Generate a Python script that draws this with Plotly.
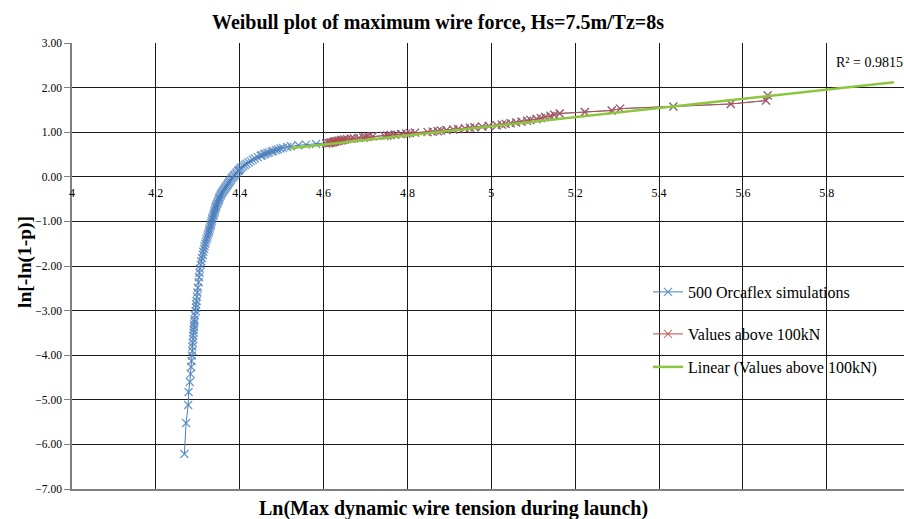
import plotly.graph_objects as go

# ---- data ----
blue_x = [4.268,4.272,4.277,4.278,4.281,4.283,4.284,4.285,4.286,4.287,4.287,4.288,4.289,4.289,4.290,4.290,4.291,4.291,4.292,4.292,
          4.293,4.295,4.296,4.296,4.297,4.298,4.299,4.300,4.302,4.303,4.304,4.305,4.307,4.308,4.310,4.312,4.313,4.315,4.316,4.318,
          4.319,4.321,4.323,4.324,4.326,4.327,4.328,4.330,4.331,4.332,4.333,4.334,4.335,4.337,4.338,4.339,4.340,4.341,4.342,4.343,
          4.344,4.346,4.347,4.349,4.350,4.351,4.352,4.354,4.355,4.357,4.359,4.361,4.363,4.365,4.367,4.369,4.371,4.373,4.375,4.377,
          4.379,4.381,4.383,4.386,4.388,4.391,4.393,4.396,
          4.397,4.399,4.401,4.404,4.408,4.412,4.416,4.421,4.426,4.431,4.436,4.443,4.450,4.453,4.458,4.461,4.466,4.470,4.476,4.480,
          4.486,4.491,4.497,4.503,4.513,4.522,4.540,4.558,4.582]
blue_y = [-6.216,-5.522,-5.115,-4.826,-4.602,-4.419,-4.264,-4.129,-4.010,-3.904,-3.808,-3.720,-3.639,-3.563,-3.493,-3.428,-3.366,-3.308,-3.253,-3.201,
          -3.103,-3.014,-2.932,-2.856,-2.785,-2.686,-2.596,-2.486,-2.363,-2.252,-2.152,-2.059,-1.974,-1.894,-1.819,-1.749,-1.682,-1.619,-1.559,-1.502,
          -1.447,-1.395,-1.344,-1.295,-1.248,-1.203,-1.158,-1.116,-1.074,-1.033,-0.994,-0.955,-0.918,-0.881,-0.845,-0.809,-0.775,-0.741,-0.707,-0.674,
          -0.642,-0.610,-0.579,-0.548,-0.517,-0.487,-0.457,-0.428,-0.398,-0.369,-0.341,-0.312,-0.284,-0.256,-0.228,-0.200,-0.173,-0.145,-0.118,-0.091,
          -0.063,-0.036,-0.009,0.018,0.045,0.072,0.099,0.127,
          0.138,0.154,0.182,0.209,0.237,0.265,0.294,0.322,0.351,0.381,0.410,0.440,0.471,0.483,0.502,0.515,0.534,0.547,0.567,0.580,
          0.600,0.614,0.634,0.648,0.670,0.684,0.707,0.722,0.737]

red_x = [4.606,4.612,4.615,4.618,4.622,4.625,4.628,4.632,4.636,4.641,
         4.645,4.650,4.656,4.665,4.672,4.684,4.695,4.700,4.706,4.717,
         4.745,4.752,4.760,4.771,4.785,4.797,4.806,4.818,4.848,4.860,
         4.872,4.880,4.893,4.909,4.921,4.937,4.949,4.960,4.978,4.994,
         5.013,5.025,5.034,5.046,5.059,5.072,5.085,5.093,5.108,5.118,
         5.128,5.141,5.150,5.163,5.223,5.287,5.307,5.434,5.571,5.655,5.659]
red_y = [0.745,0.753,0.760,0.768,0.776,0.785,0.793,0.801,0.809,0.818,
         0.826,0.835,0.844,0.853,0.862,0.871,0.880,0.889,0.898,0.908,
         0.918,0.927,0.937,0.948,0.958,0.968,0.979,0.990,1.001,1.012,
         1.023,1.035,1.047,1.059,1.072,1.085,1.098,1.111,1.125,1.140,
         1.154,1.170,1.186,1.202,1.219,1.237,1.255,1.275,1.295,1.317,
         1.340,1.365,1.391,1.420,1.452,1.487,1.528,1.575,1.633,1.709,1.827]

trend_x = [4.52, 5.96]
trend_y = [0.64, 2.12]

x_tick_vals = [4, 4.2, 4.4, 4.6, 4.8, 5, 5.2, 5.4, 5.6, 5.8]
x_tick_text = ["4", "4.2", "4.4", "4.6", "4.8", "5", "5.2", "5.4", "5.6", "5.8"]
y_tick_vals = [-7, -6, -5, -4, -3, -2, -1, 0, 1, 2, 3]

names = ["500 Orcaflex simulations", "Values above 100kN", "Linear (Values above 100kN)"]
title_text = "Weibull plot of maximum wire force, Hs=7.5m/Tz=8s"
x_title = "Ln(Max dynamic wire tension during launch)"
y_title = "ln[-ln(1-p)]"
r2_text = "R² = 0.9815"

SERIF = "Liberation Serif, Times New Roman, serif"
BLUE = "#4A7EBB"
RED = "#BE4B48"
GREEN = "#8CC63F"
GRID = "#1a1a1a"

W, H = 904, 519
L, R, T, B = 72, 0, 43, 30

XR = [4, 5.984]
YR = [-7, 3]
y0_frac = (0 - YR[0]) / (YR[1] - YR[0])   # where y = 0 sits inside the plot area
YR_UPPER = [0, YR[1]]                       # same scale, upper part only

fig = go.Figure()
fig.add_trace(go.Scatter(
    x=blue_x + red_x, y=blue_y + red_y, mode="lines+markers", name=names[0],
    line=dict(color=BLUE, width=1),
    marker=dict(symbol="x-thin", size=8, line=dict(color="rgba(74,126,187,0.8)", width=1.3)),
    legend="legend"))
fig.add_trace(go.Scatter(
    x=red_x, y=red_y, mode="lines+markers", name=names[1],
    line=dict(color=RED, width=1),
    marker=dict(symbol="x-thin", size=8, line=dict(color="rgba(190,75,72,0.75)", width=1.2)),
    legend="legend2"))
# trend line lives on the upper helper subplot (identical scale), whose x axis
# carries the tick labels along y = 0
fig.add_trace(go.Scatter(
    x=trend_x, y=trend_y, mode="lines", name=names[2], xaxis="x2", yaxis="y2",
    line=dict(color=GREEN, width=2.5),
    legend="legend3"))

leg_common = dict(font=dict(family=SERIF, size=16, color="#000"), bgcolor="rgba(0,0,0,0)",
                  borderwidth=0, xanchor="left", yanchor="middle", itemwidth=30)

def px_x(p):
    return (p - L) / (W - L - R)

def px_y(p):
    return (H - B - p) / (H - T - B)

fig.update_layout(
    width=W, height=H,
    margin=dict(l=L, r=R, t=T, b=B, pad=0),
    paper_bgcolor="white", plot_bgcolor="rgba(0,0,0,0)",
    font=dict(family=SERIF, color="#000"),
    title=dict(text="<b>" + title_text + "</b>", font=dict(family=SERIF, size=20, color="#000"),
               x=438 / W, xanchor="center", xref="container",
               y=1 - 22 / H, yanchor="middle", yref="container"),
    xaxis=dict(range=XR, tickvals=x_tick_vals, showticklabels=False,
               showgrid=True, gridcolor=GRID, gridwidth=1.3, zeroline=False,
               showline=True, linecolor="#808080", linewidth=1.5, ticks=""),
    yaxis=dict(range=YR, tickvals=y_tick_vals, tickformat=".2f",
               showgrid=True, gridcolor=GRID, gridwidth=1.3, zeroline=False,
               showline=True, linecolor="#808080", linewidth=1.5,
               ticks="outside", ticklen=6, tickcolor="#808080",
               tickfont=dict(family=SERIF, size=11.5, color="#000")),
    xaxis2=dict(range=XR, anchor="y2", domain=[0, 1],
                tickvals=x_tick_vals, ticktext=x_tick_text,
                showgrid=False, zeroline=False, showline=False, ticks="",
                ticklabelstandoff=7,
                tickfont=dict(family=SERIF, size=12, color="#000")),
    yaxis2=dict(domain=[y0_frac, 1], anchor="x2", range=YR_UPPER,
                showgrid=False, zeroline=False, showline=False,
                showticklabels=False, ticks=""),
    showlegend=True,
    legend=dict(x=px_x(648), y=px_y(292), **leg_common),
    legend2=dict(x=px_x(648), y=px_y(334), **leg_common),
    legend3=dict(x=px_x(648), y=px_y(367), **leg_common),
    annotations=[
        dict(text="<b>" + x_title + "</b>", xref="paper", yref="paper",
             x=px_x(453), y=px_y(508), xanchor="center", yanchor="middle", showarrow=False,
             font=dict(family=SERIF, size=20, color="#000")),
        dict(text="<b>" + y_title + "</b>", xref="paper", yref="paper",
             x=px_x(25), y=px_y(262), xanchor="center", yanchor="middle", showarrow=False,
             textangle=-90, font=dict(family=SERIF, size=19.5, color="#000")),
        dict(text=r2_text, xref="paper", yref="paper",
             x=px_x(834), y=px_y(62), xanchor="left", yanchor="middle", showarrow=False,
             font=dict(family=SERIF, size=14, color="#000")),
    ],
)

fig.write_html("out.html")
